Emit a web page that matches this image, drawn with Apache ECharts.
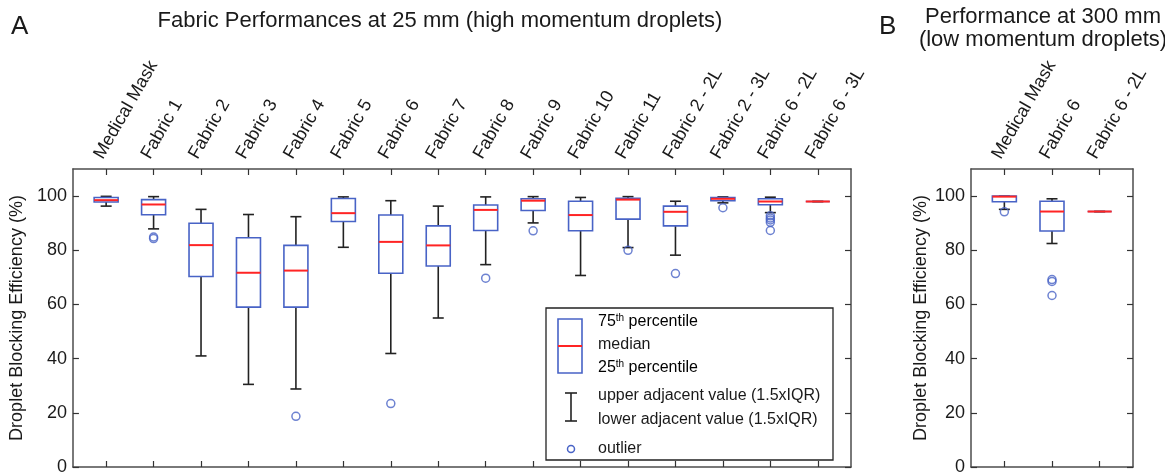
<!DOCTYPE html>
<html>
<head>
<meta charset="utf-8">
<script src="https://cdn.jsdelivr.net/npm/echarts@6/dist/echarts.min.js"></script>
<style>
  html, body { margin: 0; padding: 0; background: #fff; }
  #chart { width: 1165px; height: 476px; }
</style>
</head>
<body>
<div id="chart"></div>
<script>
// panel A: droplets at 25 mm
const catsA = ['Medical Mask', 'Fabric 1', 'Fabric 2', 'Fabric 3', 'Fabric 4', 'Fabric 5', 'Fabric 6', 'Fabric 7',
  'Fabric 8', 'Fabric 9', 'Fabric 10', 'Fabric 11', 'Fabric 2 - 2L', 'Fabric 2 - 3L', 'Fabric 6 - 2L', 'Fabric 6 - 3L'];
const lowA  = [96.3, 87.9, 41.0, 30.5, 28.8, 81.1, 41.9, 55.0, 74.7, 90.1, 70.7, 81.0, 78.2, 97.5, 93.9, 98.0];
const q1A   = [97.8, 93.1, 70.3, 59.0, 59.0, 90.6, 71.5, 74.2, 87.3, 94.7, 87.2, 91.5, 89.0, 98.3, 96.8, 98.0];
const medA  = [98.5, 96.9, 81.9, 71.7, 72.5, 93.7, 83.1, 81.8, 94.9, 98.3, 93.0, 98.7, 94.2, 99.0, 98.0, 98.0];
const q3A   = [99.5, 98.7, 90.0, 84.6, 81.8, 99.1, 93.0, 89.0, 96.7, 99.0, 98.1, 99.2, 96.3, 99.5, 99.0, 98.0];
const highA = [99.9, 99.8, 95.1, 93.2, 92.4, 99.7, 98.3, 96.3, 99.7, 99.8, 99.5, 99.8, 98.1, 99.7, 99.6, 98.0];
const outliersA = [[1, 84.3], [1, 84.9], [4, 18.7], [6, 23.4], [8, 69.7], [9, 87.2], [11, 80.0], [12, 71.4],
  [13, 95.7], [14, 92.7], [14, 91.9], [14, 91.2], [14, 90.3], [14, 87.3]];

// panel B: droplets at 300 mm
const catsB = ['Medical Mask', 'Fabric 6', 'Fabric 6 - 2L'];
const lowB  = [95.1, 82.5, 94.3];
const q1B   = [97.9, 87.1, 94.3];
const medB  = [99.8, 94.3, 94.3];
const q3B   = [100, 98.1, 94.3];
const highB = [100, 99.0, 94.3];
const outliersB = [[0, 94.2], [1, 68.5], [1, 69.2], [1, 63.3]];

const yTicks = [0, 20, 40, 60, 80, 100];
const yName = 'Droplet Blocking Efficiency (%)';

const FONT = 'Liberation Sans, Arial, sans-serif';
const BLUE = '#4863c6';
const RED = '#ff2424';
const INK = '#1a1a1a';

const chart = echarts.init(document.getElementById('chart'), null, { renderer: 'canvas' });

function boxRows(low, q1, med, q3, high) {
  return low.map((v, i) => [i, v, q1[i], med[i], q3[i], high[i]]);
}

// whiskers black, box blue, median red (matlab boxplot look)
function renderBox(params, api) {
  const x = api.value(0);
  const lo = api.coord([x, api.value(1)]);
  const b1 = api.coord([x, api.value(2)]);
  const md = api.coord([x, api.value(3)]);
  const b3 = api.coord([x, api.value(4)]);
  const hi = api.coord([x, api.value(5)]);
  const cx = lo[0];
  const hw = 12, cw = 5.5;
  const wStyle = { stroke: '#222', lineWidth: 1.6 };
  return {
    type: 'group',
    children: [
      { type: 'line', shape: { x1: cx, y1: b3[1], x2: cx, y2: hi[1] }, style: wStyle },
      { type: 'line', shape: { x1: cx - cw, y1: hi[1], x2: cx + cw, y2: hi[1] }, style: wStyle },
      { type: 'line', shape: { x1: cx, y1: b1[1], x2: cx, y2: lo[1] }, style: wStyle },
      { type: 'line', shape: { x1: cx - cw, y1: lo[1], x2: cx + cw, y2: lo[1] }, style: wStyle },
      { type: 'rect', shape: { x: cx - hw, y: b3[1], width: 2 * hw, height: b1[1] - b3[1] },
        style: { fill: 'rgba(255,255,255,0)', stroke: BLUE, lineWidth: 1.6 } },
      { type: 'line', shape: { x1: cx - hw, y1: md[1], x2: cx + hw, y2: md[1] }, style: { stroke: RED, lineWidth: 2 } }
    ]
  };
}

const frameLine = { show: true, onZero: false, lineStyle: { color: '#4d4d4d', width: 1.5 } };
function ticks(vals) {
  return { show: true, inside: true, length: 6, customValues: vals, lineStyle: { color: '#333', width: 1.2 } };
}

function topAxis(gridIndex, cats, max) {
  const idx = cats.map((c, i) => i);
  return {
    gridIndex: gridIndex, type: 'value', position: 'top', min: -0.7, max: max,
    axisLine: frameLine, axisTick: ticks(idx), splitLine: { show: false },
    axisLabel: {
      customValues: idx, formatter: (v) => cats[Math.round(v)], rotate: -60, margin: 7,
      align: 'left', verticalAlign: 'bottom', fontSize: 18, color: INK, fontFamily: FONT
    }
  };
}
function bottomAxis(gridIndex, cats, max) {
  const idx = cats.map((c, i) => i);
  return {
    gridIndex: gridIndex, type: 'value', position: 'bottom', min: -0.7, max: max,
    axisLine: frameLine, axisTick: ticks(idx), axisLabel: { show: false }, splitLine: { show: false }
  };
}
function leftAxis(gridIndex) {
  return {
    gridIndex: gridIndex, type: 'value', position: 'left', min: 0, max: 110,
    axisLine: frameLine, axisTick: ticks(yTicks), splitLine: { show: false },
    axisLabel: { customValues: yTicks, fontSize: 18, margin: 6, color: INK, fontFamily: FONT },
    name: yName, nameLocation: 'middle', nameGap: 41,
    nameTextStyle: { fontSize: 18, color: INK, fontFamily: FONT }
  };
}
function rightAxis(gridIndex) {
  return {
    gridIndex: gridIndex, type: 'value', position: 'right', min: 0, max: 110,
    axisLine: frameLine, axisTick: ticks(yTicks), axisLabel: { show: false }, splitLine: { show: false }
  };
}

const outlierStyle = { color: 'rgba(255,255,255,0)', borderColor: BLUE, borderWidth: 1.5 };

const legendText = { fontSize: 16, fill: INK, fontFamily: FONT, verticalAlign: 'middle' };
const supRich = {
  n: { fontSize: 16, lineHeight: 18, fontFamily: FONT, color: INK },
  s: { fontSize: 10, lineHeight: 10, fontFamily: FONT, color: INK, verticalAlign: 'top' }
};

const option = {
  animation: false,
  textStyle: { fontFamily: FONT },
  grid: [
    { left: 66, top: 169, width: 785, height: 305 },
    { left: 971, top: 169, width: 162, height: 305 }
  ],
  xAxis: [
    topAxis(0, catsA, 15.7), bottomAxis(0, catsA, 15.7),
    topAxis(1, catsB, 2.7), bottomAxis(1, catsB, 2.7)
  ],
  yAxis: [leftAxis(0), rightAxis(0), leftAxis(1), rightAxis(1)],
  series: [
    {
      type: 'custom', xAxisIndex: 0, yAxisIndex: 0, silent: true,
      data: boxRows(lowA, q1A, medA, q3A, highA), encode: { x: 0, y: [1, 2, 3, 4, 5] },
      renderItem: renderBox
    },
    {
      type: 'scatter', xAxisIndex: 0, yAxisIndex: 0, silent: true, symbol: 'circle', symbolSize: 8,
      itemStyle: outlierStyle, data: outliersA
    },
    {
      type: 'custom', xAxisIndex: 2, yAxisIndex: 2, silent: true,
      data: boxRows(lowB, q1B, medB, q3B, highB), encode: { x: 0, y: [1, 2, 3, 4, 5] },
      renderItem: renderBox
    },
    {
      type: 'scatter', xAxisIndex: 2, yAxisIndex: 2, silent: true, symbol: 'circle', symbolSize: 8,
      itemStyle: outlierStyle, data: outliersB
    }
  ],
  graphic: [
    { type: 'text', x: 11, y: 27, style: { text: 'A', fontSize: 26, fill: INK, fontFamily: FONT, verticalAlign: 'middle' } },
    { type: 'text', x: 879, y: 27, style: { text: 'B', fontSize: 26, fill: INK, fontFamily: FONT, verticalAlign: 'middle' } },
    { type: 'text', x: 440, y: 21, style: { text: 'Fabric Performances at 25 mm (high momentum droplets)', fontSize: 22,
      fill: INK, fontFamily: FONT, align: 'center', verticalAlign: 'middle' } },
    { type: 'text', x: 1043, y: 17, style: { text: 'Performance at 300 mm', fontSize: 22,
      fill: INK, fontFamily: FONT, align: 'center', verticalAlign: 'middle' } },
    { type: 'text', x: 1043, y: 40, style: { text: '(low momentum droplets)', fontSize: 22,
      fill: INK, fontFamily: FONT, align: 'center', verticalAlign: 'middle' } },
    // legend box
    {
      type: 'group', children: [
        { type: 'rect', shape: { x: 546, y: 308, width: 287, height: 152 }, style: { fill: '#fff', stroke: '#222', lineWidth: 1.3 } },
        { type: 'rect', shape: { x: 558, y: 319, width: 24, height: 54 }, style: { fill: 'none', stroke: BLUE, lineWidth: 1.6 } },
        { type: 'line', shape: { x1: 558, y1: 346, x2: 582, y2: 346 }, style: { stroke: RED, lineWidth: 2 } },
        { type: 'text', x: 598, y: 322, style: { text: '{n|75}{s|th}{n| percentile}', rich: supRich, verticalAlign: 'middle' } },
        { type: 'text', x: 598, y: 345, style: Object.assign({ text: 'median' }, legendText) },
        { type: 'text', x: 598, y: 368, style: { text: '{n|25}{s|th}{n| percentile}', rich: supRich, verticalAlign: 'middle' } },
        { type: 'line', shape: { x1: 571, y1: 393, x2: 571, y2: 421 }, style: { stroke: '#222', lineWidth: 1.6 } },
        { type: 'line', shape: { x1: 565, y1: 393, x2: 577, y2: 393 }, style: { stroke: '#222', lineWidth: 1.6 } },
        { type: 'line', shape: { x1: 565, y1: 421, x2: 577, y2: 421 }, style: { stroke: '#222', lineWidth: 1.6 } },
        { type: 'text', x: 598, y: 396, style: Object.assign({ text: 'upper adjacent value (1.5xIQR)' }, legendText) },
        { type: 'text', x: 598, y: 420, style: Object.assign({ text: 'lower adjacent value (1.5xIQR)' }, legendText) },
        { type: 'circle', shape: { cx: 571, cy: 449, r: 3.5 }, style: { fill: 'none', stroke: BLUE, lineWidth: 1.5 } },
        { type: 'text', x: 598, y: 449, style: Object.assign({ text: 'outlier' }, legendText) }
      ]
    }
  ]
};

chart.setOption(option);
</script>
</body>
</html>
